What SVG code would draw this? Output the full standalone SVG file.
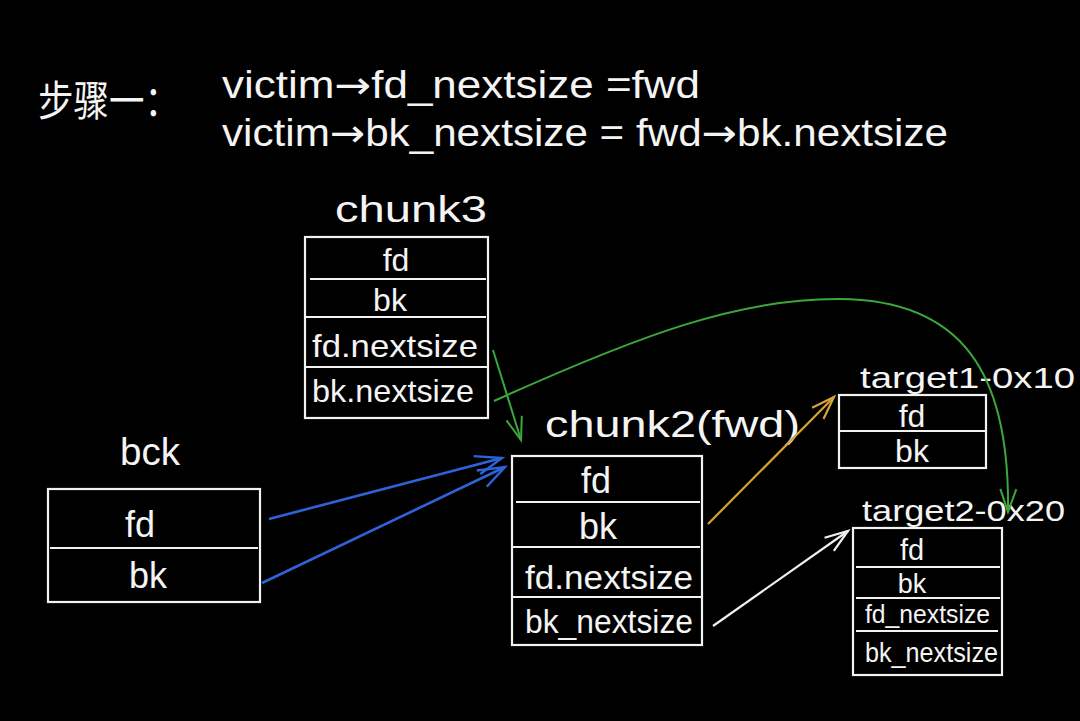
<svg xmlns="http://www.w3.org/2000/svg" width="1080" height="721" viewBox="0 0 1080 721">
<defs>
<style>
.bx{fill:none;stroke:#f2f2f2;stroke-width:2.2}
.dv{stroke:#f2f2f2;stroke-width:2}
.t{font-family:"Liberation Sans","Noto Sans CJK SC",sans-serif;fill:#f4f4f4;font-weight:normal}
.ar{font-family:"DejaVu Sans",sans-serif}
.c{text-anchor:middle}
.blue{stroke:#2f62d9;stroke-width:2.6;fill:none}
.green{stroke:#3aa83a;stroke-width:2;fill:none}
.orange{stroke:#d9a236;stroke-width:2.2;fill:none}
.white{stroke:#f0f0f0;stroke-width:2.2;fill:none}
</style>
<marker id="ab" viewBox="0 0 12 12" refX="11" refY="6" markerWidth="12" markerHeight="12" markerUnits="userSpaceOnUse" orient="auto" overflow="visible"><path d="M-16,-3 L11,6 L-14,16" fill="none" stroke="#2f62d9" stroke-width="2.4"/></marker>
<marker id="ag" viewBox="0 0 12 12" refX="11" refY="6" markerWidth="12" markerHeight="12" markerUnits="userSpaceOnUse" orient="auto" overflow="visible"><path d="M-12,-2 L11,6 L-12,14" fill="none" stroke="#3aa83a" stroke-width="2"/></marker>
<marker id="ao" viewBox="0 0 12 12" refX="11" refY="6" markerWidth="12" markerHeight="12" markerUnits="userSpaceOnUse" orient="auto" overflow="visible"><path d="M-12,-2 L11,6 L-12,14" fill="none" stroke="#d9a236" stroke-width="2.2"/></marker>
<marker id="aw" viewBox="0 0 12 12" refX="11" refY="6" markerWidth="12" markerHeight="12" markerUnits="userSpaceOnUse" orient="auto" overflow="visible"><path d="M-12,-2 L11,6 L-12,14" fill="none" stroke="#f0f0f0" stroke-width="2.2"/></marker>
</defs>
<rect width="1080" height="721" fill="#000"/>

<g id="header">
<text class="t" x="38" y="116" font-size="42" textLength="142" lengthAdjust="spacingAndGlyphs">步骤一：</text>
<text class="t" x="222" y="98" font-size="38" textLength="478" lengthAdjust="spacingAndGlyphs">victim<tspan class="ar">→</tspan>fd_nextsize =fwd</text>
<text class="t" x="222" y="146" font-size="38" textLength="726" lengthAdjust="spacingAndGlyphs">victim<tspan class="ar">→</tspan>bk_nextsize = fwd<tspan class="ar">→</tspan>bk.nextsize</text>
</g>

<g id="chunk3">
<text class="t" x="335" y="222" font-size="36" textLength="152" lengthAdjust="spacingAndGlyphs">chunk3</text>
<rect class="bx" x="305" y="237" width="183" height="181"/>
<line class="dv" x1="310" y1="279" x2="486" y2="279"/>
<line class="dv" x1="305" y1="317" x2="486" y2="317"/>
<line class="dv" x1="305" y1="367" x2="488" y2="367"/>
<text class="t c" x="396" y="271" font-size="32">fd</text>
<text class="t c" x="390" y="311" font-size="32">bk</text>
<text class="t" x="312" y="357" font-size="32" textLength="166" lengthAdjust="spacingAndGlyphs">fd.nextsize</text>
<text class="t" x="312" y="402" font-size="32" textLength="162" lengthAdjust="spacingAndGlyphs">bk.nextsize</text>
</g>

<g id="bck">
<text class="t" x="120" y="465" font-size="38" textLength="60" lengthAdjust="spacingAndGlyphs">bck</text>
<rect class="bx" x="48" y="489" width="212" height="113"/>
<line class="dv" x1="50" y1="548" x2="258" y2="548"/>
<text class="t c" x="140" y="537" font-size="36">fd</text>
<text class="t c" x="148" y="588" font-size="36">bk</text>
</g>

<g id="chunk2">
<text class="t" x="545" y="437" font-size="36" textLength="255" lengthAdjust="spacingAndGlyphs">chunk2(fwd)</text>
<rect class="bx" x="512" y="456" width="190" height="189"/>
<line class="dv" x1="516" y1="502" x2="700" y2="502"/>
<line class="dv" x1="512" y1="547" x2="700" y2="547"/>
<line class="dv" x1="512" y1="597" x2="702" y2="597"/>
<text class="t c" x="596" y="493" font-size="36">fd</text>
<text class="t c" x="598" y="539" font-size="36">bk</text>
<text class="t" x="525" y="589" font-size="34" textLength="168" lengthAdjust="spacingAndGlyphs">fd.nextsize</text>
<text class="t" x="525" y="633" font-size="34" textLength="168" lengthAdjust="spacingAndGlyphs">bk_nextsize</text>
</g>

<g id="target1">
<text class="t" x="860" y="388" font-size="30" textLength="215" lengthAdjust="spacingAndGlyphs">target1-0x10</text>
<rect class="bx" x="839" y="395" width="147" height="73"/>
<line class="dv" x1="839" y1="431" x2="986" y2="431"/>
<text class="t c" x="912" y="427" font-size="32">fd</text>
<text class="t c" x="912" y="462" font-size="32">bk</text>
</g>

<g id="target2">
<text class="t" x="862" y="521" font-size="30" textLength="203" lengthAdjust="spacingAndGlyphs">target2-0x20</text>
<rect class="bx" x="853" y="528" width="149" height="147"/>
<line class="dv" x1="856" y1="567" x2="1000" y2="567"/>
<line class="dv" x1="856" y1="598" x2="1000" y2="598"/>
<line class="dv" x1="856" y1="631" x2="998" y2="631"/>
<text class="t c" x="912" y="560" font-size="29">fd</text>
<text class="t c" x="912" y="593" font-size="27">bk</text>
<text class="t" x="865" y="623" font-size="26" textLength="125" lengthAdjust="spacingAndGlyphs">fd_nextsize</text>
<text class="t" x="865" y="662" font-size="27" textLength="133" lengthAdjust="spacingAndGlyphs">bk_nextsize</text>
</g>

<g id="connectors">
<path class="blue" d="M269,519 L502,458" marker-end="url(#ab)"/>
<path class="blue" d="M262,583 L505,467" marker-end="url(#ab)"/>
<path class="green" d="M493,350 L521,440" marker-end="url(#ag)"/>
<path class="green" d="M494,401 C640,335 740,298 840,299 C960,300 1010,370 1008,512" marker-end="url(#ag)"/>
<path class="orange" d="M708,524 L834,397" marker-end="url(#ao)"/>
<path class="white" d="M713,626 L848,531" marker-end="url(#aw)"/>
</g>
</svg>
